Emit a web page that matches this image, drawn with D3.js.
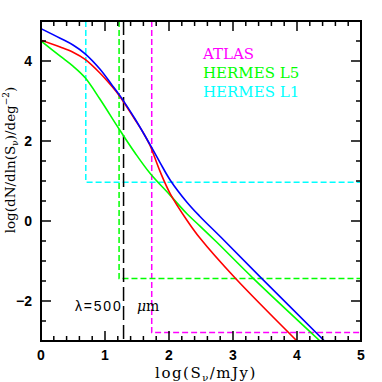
<!DOCTYPE html>
<html lang="en"><head>
<meta charset="utf-8">
<title>Source counts 500 um</title>
<script src="https://cdnjs.cloudflare.com/ajax/libs/d3/7.8.5/d3.min.js"></script>
<style>
 body { margin:0; background:#fff; }
 .tick-label { font-family: "Liberation Sans", Arial, sans-serif; font-weight: bold; font-size: 14px; }
 .axis-title { font-family: "DejaVu Serif", serif; }
 .legend { font-family: "DejaVu Serif", serif; font-size: 15px; }
</style>
</head>
<body>
<svg id="chart" width="382" height="382"></svg>
<script>
// log S (mJy) sample points
var blueX = [0, 0.3, 0.5, 0.69, 0.92, 1.1, 1.23, 1.47, 1.7, 1.86, 2.02, 2.28, 2.48, 2.82, 3.42, 4.43];
var blueY = [4.81, 4.57, 4.4, 4.18, 3.8, 3.42, 3.14, 2.55, 1.92, 1.46, 1.02, 0.47, 0.12, -0.42, -1.39, -3.0];
var redX = [0, 0.3, 0.5, 0.69, 0.92, 1.1, 1.23, 1.47, 1.6, 1.7, 1.86, 2.02, 2.28, 2.48, 3.03, 4.0];
var redY = [4.52, 4.35, 4.22, 4.04, 3.7, 3.38, 3.12, 2.53, 2.2, 1.9, 1.24, 0.68, 0.02, -0.42, -1.42, -3.0];
var greenX = [0, 0.3, 0.5, 0.69, 0.92, 1.22, 1.47, 1.7, 2.02, 2.28, 2.48, 2.74, 3.32, 4.36];
var greenY = [4.5, 4.12, 3.87, 3.58, 3.05, 2.3, 1.7, 1.2, 0.64, 0.18, -0.12, -0.52, -1.44, -3.0];

// survey limits: [x limit, y limit]
var limitNames = ["ATLAS", "HERMES L5", "HERMES L1"];
var limitColors = ["#ff00ff", "#00ff00", "#00ffff"];
var limitX = [1.73, 1.22, 0.7];
var limitY = [-2.79, -1.44, 0.97];
var lambdaX = 1.29;

var xTicks = [0, 1, 2, 3, 4, 5];
var yTicks = [-2, 0, 2, 4];

var margin = {left: 41, top: 21}, width = 320, height = 320;
var svg = d3.select("#chart");
var g = svg.append("g").attr("transform", "translate(" + margin.left + "," + margin.top + ")");

var x = d3.scaleLinear().domain([0, 5]).range([0, width]);
var y = d3.scaleLinear().domain([-3, 5]).range([height, 0]);

g.append("clipPath").attr("id", "clip").append("rect").attr("width", width).attr("height", height);
var plot = g.append("g").attr("clip-path", "url(#clip)");

// limit lines
limitX.forEach(function(lx, i){
  plot.append("path")
    .attr("d", d3.line()([[x(lx), 0], [x(lx), y(limitY[i])], [width, y(limitY[i])]]))
    .attr("fill", "none").attr("stroke", limitColors[i]).attr("stroke-width", 1.5)
    .attr("stroke-dasharray", "6,3");
});
plot.append("line")
  .attr("x1", x(lambdaX)).attr("x2", x(lambdaX)).attr("y1", 0).attr("y2", height)
  .attr("stroke", "#000").attr("stroke-width", 1.5).attr("stroke-dasharray", "14,5");

var line = d3.line().x(function(d){ return x(d[0]); }).y(function(d){ return y(d[1]); }).curve(d3.curveCatmullRom.alpha(0.5));
function drawCurve(xs, ys, col){
  plot.append("path").datum(d3.zip(xs, ys))
    .attr("d", line).attr("fill", "none").attr("stroke", col).attr("stroke-width", 1.6);
}
drawCurve(greenX, greenY, "#00ff00");
drawCurve(redX, redY, "#ff0000");
drawCurve(blueX, blueY, "#0000ff");

// ticks on all four sides, inward
var xMinor = d3.range(0, 5.001, 0.2), yMinor = d3.range(-3, 5.001, 0.5);
function isMajor(v){ return Math.abs(v - Math.round(v)) < 1e-6; }
var xMaj = function(v){ return isMajor(v) ? 10 : 5; };
var yMaj = function(v){ return (isMajor(v) && Math.round(v) % 2 === 0) ? 10 : 5; };
xMinor.forEach(function(v){
  g.append("line").attr("x1", x(v)).attr("x2", x(v)).attr("y1", height).attr("y2", height - xMaj(v)).attr("stroke", "#000").attr("stroke-width", 1.5);
  g.append("line").attr("x1", x(v)).attr("x2", x(v)).attr("y1", 0).attr("y2", xMaj(v)).attr("stroke", "#000").attr("stroke-width", 1.5);
});
yMinor.forEach(function(v){
  g.append("line").attr("y1", y(v)).attr("y2", y(v)).attr("x1", 0).attr("x2", yMaj(v)).attr("stroke", "#000").attr("stroke-width", 1.5);
  g.append("line").attr("y1", y(v)).attr("y2", y(v)).attr("x1", width).attr("x2", width - yMaj(v)).attr("stroke", "#000").attr("stroke-width", 1.5);
});
g.append("rect").attr("width", width).attr("height", height).attr("fill", "none").attr("stroke", "#000").attr("stroke-width", 2);

g.selectAll(".xl").data(xTicks).enter().append("text").attr("class", "tick-label")
  .attr("x", function(d){ return x(d); }).attr("y", height + 19).attr("text-anchor", "middle")
  .text(function(d){ return d; });
g.selectAll(".yl").data(yTicks).enter().append("text").attr("class", "tick-label")
  .attr("x", -9).attr("y", function(d){ return y(d) + 5; }).attr("text-anchor", "end")
  .text(function(d){ return d < 0 ? "\u2212" + Math.abs(d) : d; });

// axis titles
var xt = svg.append("text").attr("class", "axis-title").attr("x", 206).attr("y", 378)
  .attr("text-anchor", "middle").attr("font-size", "15px").attr("letter-spacing", "1.5px");
xt.append("tspan").text("log(S");
xt.append("tspan").attr("dy", 3).attr("font-size", "10px").text("\u03bd");
xt.append("tspan").attr("dy", -3).text("/mJy)");

var yt = svg.append("text").attr("class", "axis-title").attr("text-anchor", "middle")
  .attr("font-size", "13.5px").attr("transform", "translate(15,160) rotate(-90)");
yt.append("tspan").text("log(dN/dln(S");
yt.append("tspan").attr("dy", 3).attr("font-size", "9px").text("\u03bd");
yt.append("tspan").attr("dy", -3).text(")/deg");
yt.append("tspan").attr("dy", -6).attr("font-size", "9px").text("\u22122");
yt.append("tspan").attr("dy", 6).text(")");

// legend
limitNames.forEach(function(n, i){
  svg.append("text").attr("class", "legend").attr("x", 203).attr("y", 59 + i * 19.2)
    .attr("fill", limitColors[i]).text(n);
});

// wavelength label
var lt = svg.append("text").attr("x", 75).attr("y", 311)
  .attr("font-family", "Liberation Sans, Arial, sans-serif").attr("font-size", "14px");
lt.append("tspan").attr("letter-spacing", "1.8px").text("\u03bb=500");
lt.append("tspan").attr("x", 137).attr("font-family", "DejaVu Serif, serif").attr("font-style", "italic").text("\u03bc");
lt.append("tspan").attr("font-family", "DejaVu Serif, serif").text("m");
</script>
</body></html>
